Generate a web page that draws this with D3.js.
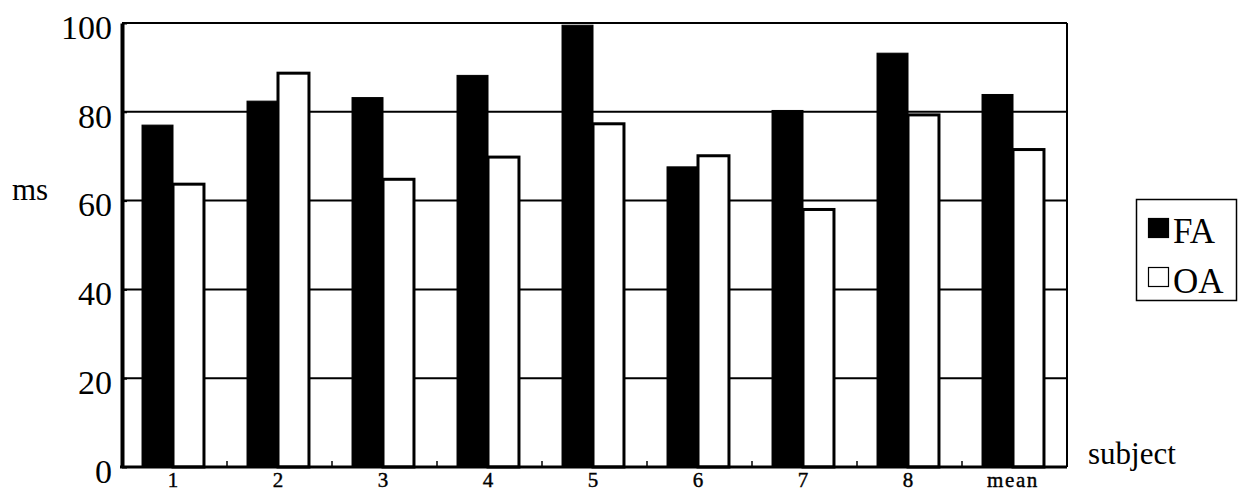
<!DOCTYPE html>
<html>
<head>
<meta charset="utf-8">
<script src="https://cdn.jsdelivr.net/npm/d3@7/dist/d3.min.js"></script>
<style>
  html, body { margin: 0; padding: 0; background: #fff; }
  svg { display: block; font-family: "Liberation Serif", "Times New Roman", serif; }
</style>
</head>
<body>
<svg id="chart" width="1241" height="493"></svg>
<script>
// Response time (ms) per subject, two conditions
const categories = ["1", "2", "3", "4", "5", "6", "7", "8", "mean"];
const seriesNames = ["FA", "OA"];
const faValues = [77.0, 82.4, 83.2, 88.2, 99.5, 67.6, 80.3, 93.2, 83.9];
const oaValues = [63.7, 88.7, 64.8, 69.8, 77.3, 70.1, 58.0, 79.3, 71.5];
const yTicks = [0, 20, 40, 60, 80, 100];

const svg = d3.select("#chart");
const plot = { left: 122, right: 1067, top: 23, bottom: 467 };

const x = d3.scaleBand()
  .domain(categories)
  .range([plot.left, plot.right])
  .paddingInner(0.41)
  .paddingOuter(0.205);

const xSub = d3.scaleBand()
  .domain(seriesNames)
  .range([0, x.bandwidth()]);

const y = d3.scaleLinear()
  .domain([0, 100])
  .range([plot.bottom, plot.top]);

const fills = { FA: "#000", OA: "#fff" };

// horizontal grid lines
svg.append("g")
  .selectAll("line")
  .data(yTicks.filter(d => d > 0 && d < 100))
  .join("line")
  .attr("x1", plot.left).attr("x2", plot.right)
  .attr("y1", d => y(d)).attr("y2", d => y(d))
  .attr("stroke", "#000").attr("stroke-width", 2);

// bars
const rows = categories.map((c, i) => ({ cat: c, FA: faValues[i], OA: oaValues[i] }));
const groups = svg.append("g")
  .selectAll("g")
  .data(rows)
  .join("g")
  .attr("transform", d => `translate(${x(d.cat) - 1.5},0)`);

groups.selectAll("rect")
  .data(d => seriesNames.map(s => ({ key: s, value: d[s] })))
  .join("rect")
  .attr("x", d => xSub(d.key))
  .attr("width", xSub.bandwidth())
  .attr("y", d => y(d.value))
  .attr("height", d => y(0) - y(d.value))
  .attr("fill", d => fills[d.key])
  .attr("stroke", "#000")
  .attr("stroke-width", d => d.key === "OA" ? 3 : 1);

// frame: top and right borders
svg.append("line")
  .attr("x1", plot.left).attr("x2", plot.right)
  .attr("y1", plot.top).attr("y2", plot.top)
  .attr("stroke", "#000").attr("stroke-width", 2);
svg.append("line")
  .attr("x1", plot.right).attr("x2", plot.right)
  .attr("y1", plot.top).attr("y2", plot.bottom)
  .attr("stroke", "#000").attr("stroke-width", 2);

// y axis
const yAxis = svg.append("g")
  .attr("transform", `translate(${plot.left},0)`)
  .call(d3.axisLeft(y).tickValues(yTicks).tickSize(-5).tickSizeOuter(0).tickPadding(10));
yAxis.select(".domain").attr("stroke-width", 4);
yAxis.selectAll(".tick line").attr("stroke-width", 2);
yAxis.selectAll(".tick text")
  .attr("font-family", "Liberation Serif, serif")
  .attr("font-size", 34)
  .attr("fill", "#000")
  .attr("dy", "0.45em");

// x axis with group boundary ticks
const xAxis = svg.append("g")
  .attr("transform", `translate(0,${plot.bottom})`);
xAxis.append("line")
  .attr("x1", plot.left - 2).attr("x2", plot.right)
  .attr("stroke", "#000").attr("stroke-width", 3);
const step = x.step();
xAxis.selectAll("line.bound")
  .data(d3.range(1, categories.length))
  .join("line")
  .attr("class", "bound")
  .attr("x1", k => plot.left + step * k).attr("x2", k => plot.left + step * k)
  .attr("y1", 0).attr("y2", -6)
  .attr("stroke", "#000").attr("stroke-width", 1.5);
xAxis.selectAll("text")
  .data(categories)
  .join("text")
  .attr("x", d => x(d) + x.bandwidth() / 2 - 1.5)
  .attr("y", 20)
  .attr("text-anchor", "middle")
  .attr("font-size", 21)
  .attr("stroke", "#000")
  .attr("stroke-width", 0.4)
  .attr("letter-spacing", d => d === "mean" ? 1.6 : 0)
  .text(d => d);

// axis titles
svg.append("text")
  .attr("x", 12).attr("y", 200)
  .attr("font-size", 31)
  .text("ms");
svg.append("text")
  .attr("x", 1088).attr("y", 464)
  .attr("font-size", 31)
  .text("subject");

// legend
const legend = svg.append("g");
legend.append("rect")
  .attr("x", 1136.5).attr("y", 199.5)
  .attr("width", 100).attr("height", 101)
  .attr("fill", "#fff").attr("stroke", "#000").attr("stroke-width", 1.5);
const legendRows = [
  { key: "FA", y: 218, base: 243 },
  { key: "OA", y: 267, base: 293 }
];
legend.selectAll("rect.swatch")
  .data(legendRows)
  .join("rect")
  .attr("class", "swatch")
  .attr("x", 1148.5).attr("y", d => d.y + 0.5)
  .attr("width", 20).attr("height", 19)
  .attr("fill", d => fills[d.key])
  .attr("stroke", "#000").attr("stroke-width", 1.2);
legend.selectAll("text")
  .data(legendRows)
  .join("text")
  .attr("x", 1173).attr("y", d => d.base)
  .attr("font-size", 35)
  .text(d => d.key);
</script>
</body>
</html>
